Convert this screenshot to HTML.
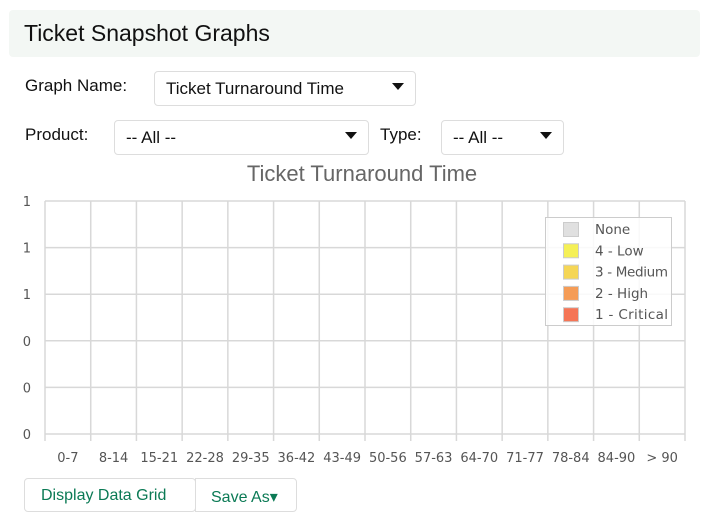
<!DOCTYPE html>
<html><head><meta charset="utf-8"><style>
body{margin:0;width:723px;height:524px;background:#fff;font-family:"Liberation Sans",sans-serif;position:relative;overflow:hidden}
.hdr{position:absolute;left:9px;top:10px;width:691px;height:47px;background:#f3f7f4;border-radius:4px}
.hdr span{position:absolute;left:15px;top:10px;font-size:23px;color:#111}
.lbl{position:absolute;font-size:17px;color:#111}
.sel{position:absolute;border:1px solid #ddd;border-radius:4px;background:#fff;font-size:17px;color:#111;box-sizing:border-box}
.sel span{position:absolute;left:11px;top:7px}
.sel i{position:absolute;right:11px;top:11px;width:0;height:0;border-left:6px solid transparent;border-right:6px solid transparent;border-top:7px solid #111}
.btn{position:absolute;top:478px;height:34px;border:1px solid #ddd;border-radius:4px;box-sizing:border-box;font-size:16px;color:#0b7a55}
</style></head><body>
<div class="hdr"><span>Ticket Snapshot Graphs</span></div>
<div class="lbl" style="left:25px;top:76px">Graph Name:</div>
<div class="sel" style="left:154px;top:71px;width:262px;height:35px"><span>Ticket Turnaround Time</span><i></i></div>
<div class="lbl" style="left:25px;top:125px">Product:</div>
<div class="sel" style="left:114px;top:120px;width:255px;height:35px"><span>-- All --</span><i></i></div>
<div class="lbl" style="left:380px;top:125px">Type:</div>
<div class="sel" style="left:441px;top:120px;width:123px;height:35px"><span>-- All --</span><i></i></div>
<svg id="chart" width="723" height="524" style="position:absolute;left:0;top:0">
<text x="362" y="181" text-anchor="middle" font-size="22" fill="#666" font-family="Liberation Sans,sans-serif">Ticket Turnaround Time</text>
</svg>
<div class="btn" style="left:24px;width:172px"><span style="position:absolute;left:16px;top:8px">Display Data Grid</span></div>
<div class="btn" style="left:195px;width:102px;border-radius:0 4px 4px 0"><span style="position:absolute;left:15px;top:8px">Save As&#9662;</span></div>
<script>
const categories=["0-7","8-14","15-21","22-28","29-35","36-42","43-49","50-56","57-63","64-70","71-77","78-84","84-90","> 90"];
const seriesNames=["None","4 - Low","3 - Medium","2 - High","1 - Critical"];
const seriesColors=["#e0e0e0","#f5f056","#f5d656","#f59c56","#f57556"];
const seriesNone=[0,0,0,0,0,0,0,0,0,0,0,0,0,0];
const seriesLow=[0,0,0,0,0,0,0,0,0,0,0,0,0,0];
const seriesMedium=[0,0,0,0,0,0,0,0,0,0,0,0,0,0];
const seriesHigh=[0,0,0,0,0,0,0,0,0,0,0,0,0,0];
const seriesCritical=[0,0,0,0,0,0,0,0,0,0,0,0,0,0];
const yTicks=[0,0.2,0.4,0.6,0.8,1];
const svg=document.getElementById('chart');const NS='http://www.w3.org/2000/svg';
const L=45,R=685,T=201,B=434,yMax=1;
const bw=(R-L)/categories.length;
const xPos=i=>L+i*bw;
const yPos=v=>B-(v/yMax)*(B-T);
function mk(t,a){const e=document.createElementNS(NS,t);for(const k in a)e.setAttribute(k,a[k]);svg.appendChild(e);return e;}
yTicks.forEach(v=>{
 const g=mk('line',{x1:L,x2:R,y1:yPos(v),y2:yPos(v),stroke:'#d8d8d8','stroke-width':1.5});
 
 
 const t=mk('text',{x:31,y:yPos(v)+5,'text-anchor':'end','font-size':13,fill:'#555','font-family':'DejaVu Sans,sans-serif'});
 t.textContent=Math.round(v);
 
 
});
for(let i=0;i<=categories.length;i++){
 const g=mk('line',{x1:xPos(i),x2:xPos(i),y1:T,y2:B+7,stroke:'#d8d8d8','stroke-width':1.5});
 
 
}
const allSeries=[seriesNone,seriesLow,seriesMedium,seriesHigh,seriesCritical];
categories.forEach((c,i)=>{
 const t=mk('text',{x:xPos(i)+bw/2,y:462,'text-anchor':'middle','font-size':13,fill:'#555','font-family':'DejaVu Sans,sans-serif'});
 t.textContent=c;
 
 
 let acc=0;
 allSeries.forEach((s,k)=>{
  const h=yPos(acc)-yPos(acc+s[i]);
  const r=mk('rect',{x:xPos(i)+bw*0.15,y:yPos(acc+s[i]),width:bw*0.7,height:Math.max(0,h),fill:seriesColors[k]});
  
  
  acc+=s[i];
 });
});
const lg=mk('rect',{x:545.5,y:217.5,width:126,height:108,fill:'#fff','fill-opacity':0.85,stroke:'#ccc'});


seriesNames.forEach((n,k)=>{
 const y=222+k*21.3;
 const r=mk('rect',{x:563.5,y:y+0.5,width:15,height:14,fill:seriesColors[k],stroke:'#ccc'});
 
 
 const t=mk('text',{x:595,y:y+12,'font-size':13.5,fill:'#555','font-family':'DejaVu Sans,sans-serif',textLength:n.length>8?73:null});
 if(!(n.length>8))t.removeAttribute('textLength');
 t.textContent=n;
 
 
});
</script>
</body></html>
